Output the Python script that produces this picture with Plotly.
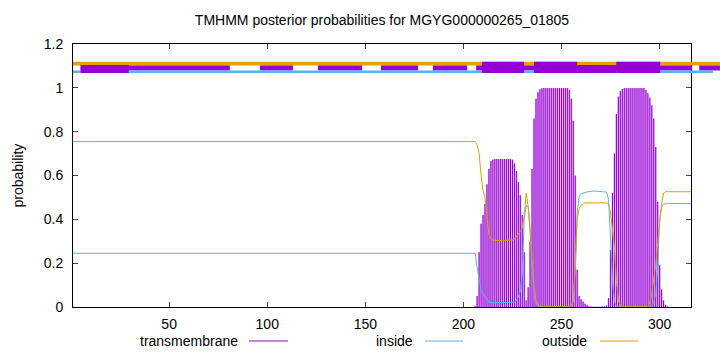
import plotly.graph_objects as go

# ---------------- data ----------------
chart_title = "TMHMM posterior probabilities for MGYG000000265_01805"
seq_len = 316

x_ticks = [50, 100, 150, 200, 250, 300]
y_ticks = [0, 0.2, 0.4, 0.6, 0.8, 1.0, 1.2]
y_tick_labels = ["0", "0.2", "0.4", "0.6", "0.8", "1", "1.2"]

series_names = ["transmembrane", "inside", "outside"]

# residue positions for the detailed part (plus the start of the flat part)
line_pos = [1] + list(range(205, 317))

outside_val = [0.755,
    0.755, 0.755, 0.74, 0.70, 0.60, 0.53, 0.50, 0.40, 0.33, 0.31,
    0.305, 0.304, 0.303, 0.303, 0.303, 0.303, 0.303, 0.303, 0.303, 0.304,
    0.306, 0.31, 0.32, 0.335, 0.345, 0.36, 0.42, 0.52, 0.46, 0.36,
    0.20, 0.09, 0.03, 0.01, 0.004, 0.001, 0.001, 0.001, 0.001, 0.001,
    0.001, 0.001, 0.001, 0.001, 0.001, 0.001, 0.001, 0.001, 0.001, 0.001,
    0.005, 0.03, 0.18, 0.40, 0.45, 0.465, 0.47, 0.475, 0.475, 0.475,
    0.475, 0.475, 0.475, 0.475, 0.475, 0.475, 0.475, 0.475, 0.475, 0.47,
    0.43, 0.35, 0.27, 0.12, 0.03, 0.005, 0.001, 0.001, 0.001, 0.001,
    0.001, 0.001, 0.001, 0.001, 0.001, 0.001, 0.001, 0.001, 0.001, 0.001,
    0.02, 0.06, 0.13, 0.19, 0.29, 0.40, 0.47, 0.52, 0.526, 0.526,
    0.526, 0.526, 0.526, 0.526, 0.526, 0.526, 0.526, 0.526, 0.526, 0.526,
    0.526, 0.526]

inside_val = [0.245,
    0.245, 0.245, 0.18, 0.12, 0.075, 0.06, 0.05, 0.035, 0.022, 0.02,
    0.02, 0.02, 0.02, 0.02, 0.02, 0.02, 0.02, 0.02, 0.02, 0.02,
    0.02, 0.021, 0.03, 0.045, 0.07, 0.15, 0.40, 0.465, 0.455, 0.34,
    0.17, 0.06, 0.015, 0.003, 0.001, 0.001, 0.001, 0.001, 0.001, 0.001,
    0.001, 0.001, 0.001, 0.001, 0.001, 0.001, 0.001, 0.001, 0.001, 0.001,
    0.003, 0.02, 0.18, 0.43, 0.505, 0.515, 0.52, 0.522, 0.525, 0.527,
    0.528, 0.529, 0.529, 0.529, 0.528, 0.527, 0.526, 0.525, 0.524, 0.49,
    0.32, 0.12, 0.025, 0.003, 0.001, 0.001, 0.001, 0.001, 0.001, 0.001,
    0.001, 0.001, 0.001, 0.001, 0.001, 0.001, 0.001, 0.001, 0.001, 0.001,
    0.001, 0.005, 0.02, 0.06, 0.17, 0.40, 0.455, 0.47, 0.472, 0.472,
    0.472, 0.472, 0.472, 0.472, 0.472, 0.472, 0.472, 0.472, 0.472, 0.472,
    0.472, 0.472]

tm_pos = list(range(205, 317))
tm_val = [
    0.0, 0.005, 0.05, 0.25, 0.38, 0.42, 0.47, 0.56, 0.63, 0.665,
    0.672, 0.675, 0.675, 0.675, 0.675, 0.675, 0.675, 0.675, 0.675, 0.675,
    0.672, 0.655, 0.62, 0.57, 0.51, 0.42, 0.25, 0.03, 0.09, 0.30,
    0.63, 0.86, 0.95, 0.98, 0.993, 0.998, 0.999, 0.999, 0.999, 0.999,
    0.999, 0.999, 0.999, 0.999, 0.999, 0.999, 0.999, 0.999, 0.999, 0.99,
    0.95, 0.85, 0.60, 0.17, 0.05, 0.035, 0.025, 0.015, 0.008, 0.004,
    0.002, 0.001, 0.001, 0.001, 0.001, 0.001, 0.002, 0.003, 0.006, 0.04,
    0.26, 0.52, 0.70, 0.88, 0.96, 0.985, 0.995, 0.999, 0.999, 0.999,
    0.999, 0.999, 0.999, 0.999, 0.999, 0.999, 0.999, 0.999, 0.99, 0.975,
    0.955, 0.92, 0.86, 0.73, 0.48, 0.19, 0.08, 0.03, 0.01, 0.003,
    0.0, 0.0, 0.0, 0.0, 0.0, 0.0, 0.0, 0.0, 0.0, 0.0,
    0.0, 0.0]

# topology strip segments (start, end) in residue coordinates
strip_outside = [(1, 331)]
strip_inside = [(1, 327.2)]
strip_tm_thin = [(4.9, 80.9), (96.3, 113.1), (125.8, 148.3), (158.0, 176.9),
                 (184.5, 201.9), (206.5, 316.6), (320.2, 331)]
strip_tm_mid = [(4.9, 29.4), (258.0, 277.9)]
strip_tm_thick = [(209.5, 230.9), (236.0, 258.0), (277.9, 300.3)]

# ---------------- styles ----------------
C_TM = "#9400d3"
C_TM_FILL = "#dcaaf2"
C_IN = "#56b4e9"
C_OUT = "#e69f00"
FONT = "Liberation Sans, Arial, Helvetica, sans-serif"

W, H = 720, 352
ML, MR, MT, MB = 73, 0, 44, 45
plot_w = 618
dom_end = plot_w / (W - ML - MR)
x2_max = 1 + (seq_len - 1) / dom_end


def impulse_xy(pos, val):
    xs, ys = [], []
    for p, v in zip(pos, val):
        if v > 0:
            xs += [p, p, None]
            ys += [0, v, None]
    return xs, ys


fig = go.Figure()

imp_x, imp_y = impulse_xy(tm_pos, tm_val)
# impulses: light halo plus dark core (gnuplot "with impulses lw 2" look)
fig.add_trace(go.Scatter(x=imp_x, y=imp_y, mode="lines",
                         line=dict(color=C_TM_FILL, width=2),
                         showlegend=False, hoverinfo="skip"))
fig.add_trace(go.Scatter(x=imp_x, y=imp_y, mode="lines",
                         line=dict(color=C_TM, width=1),
                         showlegend=False, name=series_names[0]))
fig.add_trace(go.Scatter(x=line_pos, y=inside_val, mode="lines",
                         line=dict(color=C_IN, width=1), showlegend=False,
                         name=series_names[1]))
fig.add_trace(go.Scatter(x=line_pos, y=outside_val, mode="lines",
                         line=dict(color=C_OUT, width=1), showlegend=False,
                         name=series_names[2]))


def seg_trace(segs, level, color, width):
    xs, ys = [], []
    for a, b in segs:
        xs += [a, b, None]
        ys += [level, level, None]
    return go.Scatter(x=xs, y=ys, mode="lines", xaxis="x2", yaxis="y",
                      line=dict(color=color, width=width),
                      showlegend=False, hoverinfo="skip")


fig.add_trace(seg_trace(strip_outside, 1.1104, C_OUT, 3.7))
fig.add_trace(seg_trace(strip_tm_thin, 1.0905, C_TM, 5))
fig.add_trace(seg_trace(strip_inside, 1.0732, C_IN, 2.6))
fig.add_trace(seg_trace(strip_tm_mid, 1.0855, C_TM, 8))
fig.add_trace(seg_trace(strip_tm_thick, 1.0931, C_TM, 11.3))

axis_common = dict(showline=True, linecolor="black", linewidth=1,
                   mirror="ticks", ticks="inside", ticklen=5,
                   tickcolor="#444", tickwidth=1, showgrid=False,
                   zeroline=False, tickfont=dict(family=FONT, size=14,
                                                 color="black"))

fig.update_layout(
    width=W, height=H,
    margin=dict(l=ML, r=MR, t=MT, b=MB, pad=0),
    paper_bgcolor="white", plot_bgcolor="rgba(0,0,0,0)",
    font=dict(family=FONT, size=14, color="black"),
    title=dict(text=chart_title, x=382 / W, xref="container", xanchor="center",
               y=1 - 20 / H, yref="container", yanchor="middle",
               font=dict(family=FONT, size=14, color="black")),
    xaxis=dict(domain=[0, dom_end], range=[1, seq_len], tickvals=x_ticks,
               ticklabelstandoff=4, **axis_common),
    yaxis=dict(range=[0, 1.2], tickvals=y_ticks, ticktext=y_tick_labels,
               ticklabelstandoff=6, **axis_common),
    xaxis2=dict(domain=[0, 1], range=[1, x2_max], anchor="y", visible=False),
)

# y label
fig.add_annotation(text="probability", xref="paper", yref="paper",
                   x=(17 - ML) / (W - ML), y=0.5, textangle=-90,
                   showarrow=False, xanchor="center", yanchor="middle",
                   font=dict(family=FONT, size=14, color="black"))

# gnuplot-style key below the plot: text then line sample
key_y = (307 - 341) / (H - MT - MB)
key_items = [(series_names[0], C_TM, 240, 249, 288),
             (series_names[1], C_IN, 414.5, 425, 463),
             (series_names[2], C_OUT, 589, 600, 638)]
for name, col, txt_r, l0, l1 in key_items:
    fig.add_annotation(text=name, xref="paper", yref="paper",
                       x=(txt_r - ML) / (W - ML), y=key_y, showarrow=False,
                       xanchor="right", yanchor="middle",
                       font=dict(family=FONT, size=14, color="black"))
    fig.add_shape(type="line", xref="paper", yref="paper",
                  x0=(l0 - ML) / (W - ML), x1=(l1 - ML) / (W - ML),
                  y0=key_y, y1=key_y, line=dict(color=col, width=1))

fig.write_html("out.html")
